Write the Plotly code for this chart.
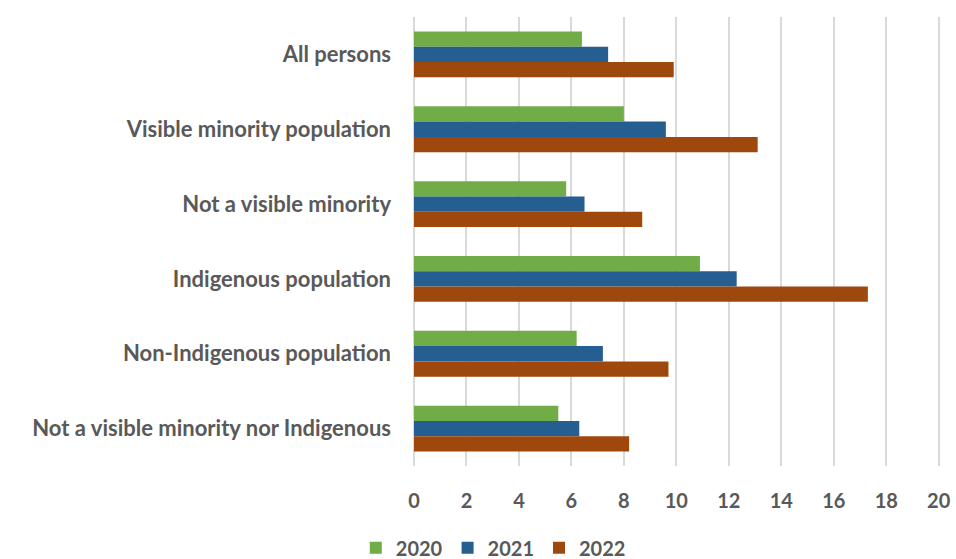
import plotly.graph_objects as go

categories = [
    "All persons",
    "Visible minority population",
    "Not a visible minority",
    "Indigenous population",
    "Non-Indigenous population",
    "Not a visible minority nor Indigenous",
]
years = ["2020", "2021", "2022"]
values_2020 = [6.4, 8.0, 5.8, 10.9, 6.2, 5.5]
values_2021 = [7.4, 9.6, 6.5, 12.3, 7.2, 6.3]
values_2022 = [9.9, 13.1, 8.7, 17.3, 9.7, 8.2]
colors = ["#70AD47", "#255E91", "#9E480E"]
x_ticks = [0, 2, 4, 6, 8, 10, 12, 14, 16, 18, 20]

FONT = "Lato"
GREY = "#595959"

fig = go.Figure()
for name, vals, col in zip(years, [values_2020, values_2021, values_2022], colors):
    fig.add_trace(go.Bar(
        y=categories, x=vals, name=name, orientation="h",
        marker=dict(color=col, line=dict(width=0)),
    ))

fig.update_layout(
    width=956, height=559,
    margin=dict(l=414, r=16, t=17, b=93, autoexpand=False),
    barmode="group", bargap=0.387, bargroupgap=0,
    plot_bgcolor="white", paper_bgcolor="white",
    font=dict(family=FONT, color=GREY, size=20),
    showlegend=True,
    legend=dict(
        orientation="h", xref="container", x=0.516, xanchor="center",
        yref="container", y=0.02, yanchor="middle",
        font=dict(family=FONT, size=20, color=GREY, weight="bold"),
        itemwidth=30, traceorder="normal",
    ),
    xaxis=dict(
        range=[0, 20.05], tickvals=x_ticks, ticktext=[str(t) for t in x_ticks],
        showgrid=True, gridcolor="#D9D9D9", gridwidth=2,
        zeroline=True, zerolinecolor="#D9D9D9", zerolinewidth=2,
        showline=False, ticks="",
        ticklabelstandoff=21,
        tickfont=dict(family=FONT, size=20, color=GREY, weight="bold"),
        fixedrange=True,
    ),
    yaxis=dict(
        autorange="reversed", showgrid=False, zeroline=False, showline=False,
        ticks="", ticklabelstandoff=22,
        tickfont=dict(family=FONT, size=22, color=GREY, weight="bold"),
        fixedrange=True,
    ),
)

fig.write_html("out.html")
